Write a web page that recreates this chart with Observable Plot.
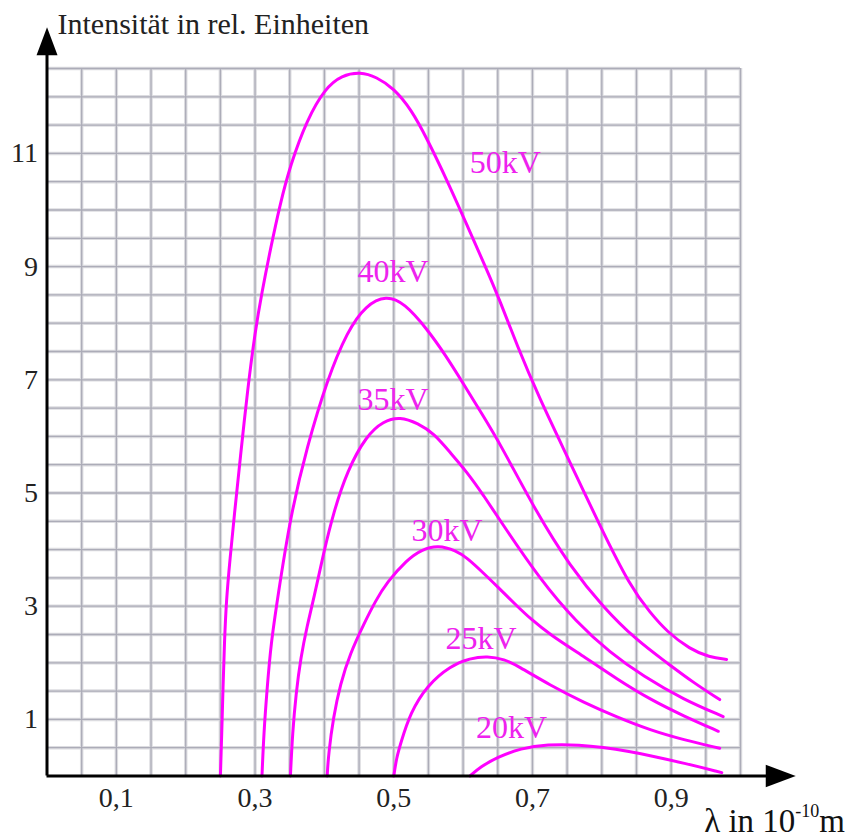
<!DOCTYPE html>
<html><head><meta charset="utf-8">
<script src="https://cdn.jsdelivr.net/npm/d3@7"></script>
<script src="https://cdn.jsdelivr.net/npm/@observablehq/plot@0.6"></script>
<style>body{margin:0;background:#fff;} svg{display:block}</style>
</head><body><div id="chart"></div>
<script>
// ---- data ----
const series = ["50kV", "40kV", "35kV", "30kV", "25kV", "20kV"];

const lambda50 = [0.250, 0.252, 0.2538, 0.2558, 0.2585, 0.264, 0.270, 0.279, 0.289, 0.300, 0.310, 0.322, 0.336, 0.351, 0.375, 0.401, 0.425, 0.452, 0.475, 0.500, 0.525, 0.548, 0.577, 0.605, 0.634, 0.653, 0.678, 0.709, 0.750, 0.798, 0.841, 0.870, 0.894, 0.927, 0.955, 0.980];
const int50    = [0, 0.75, 1.57, 2.34, 3.1, 3.85, 4.6, 5.65, 6.8, 7.85, 8.55, 9.3, 10.1, 10.8, 11.6, 12.15, 12.38, 12.44, 12.35, 12.15, 11.78, 11.26, 10.52, 9.75, 8.95, 8.4, 7.6, 6.7, 5.65, 4.4, 3.35, 2.88, 2.55, 2.24, 2.1, 2.06];

const lambda40 = [0.310, 0.3126, 0.3175, 0.323, 0.332, 0.351, 0.375, 0.404, 0.433, 0.460, 0.489, 0.515, 0.548, 0.575, 0.601, 0.627, 0.653, 0.706, 0.754, 0.802, 0.850, 0.894, 0.932, 0.970];
const int40    = [0, 0.75, 1.57, 2.34, 3.1, 4.6, 5.82, 7.0, 7.86, 8.32, 8.49, 8.36, 7.9, 7.43, 6.92, 6.4, 5.88, 4.65, 3.71, 2.98, 2.4, 2.0, 1.65, 1.35];

const lambda35 = [0.351, 0.354, 0.359, 0.366, 0.375, 0.385, 0.399, 0.413, 0.433, 0.461, 0.485, 0.509, 0.535, 0.558, 0.581, 0.605, 0.630, 0.653, 0.711, 0.764, 0.812, 0.860, 0.918, 0.975];
const int35    = [0, 0.75, 1.45, 2.1, 2.65, 3.15, 3.95, 4.65, 5.4, 6.02, 6.27, 6.35, 6.23, 6.05, 5.72, 5.38, 4.95, 4.52, 3.47, 2.71, 2.18, 1.76, 1.35, 1.05];

const lambda30 = [0.404, 0.406, 0.413, 0.423, 0.437, 0.457, 0.474, 0.490, 0.519, 0.540, 0.564, 0.590, 0.605, 0.629, 0.649, 0.678, 0.697, 0.725, 0.773, 0.822, 0.870, 0.918, 0.968];
const int30    = [0, 0.4, 1.04, 1.63, 2.16, 2.69, 3.1, 3.42, 3.82, 4.0, 4.08, 3.98, 3.86, 3.59, 3.35, 3.0, 2.78, 2.5, 2.12, 1.71, 1.35, 1.06, 0.79];

const lambda25 = [0.500, 0.504, 0.510, 0.524, 0.548, 0.582, 0.610, 0.635, 0.660, 0.678, 0.726, 0.774, 0.822, 0.870, 0.918, 0.970];
const int25    = [0, 0.32, 0.58, 1.12, 1.6, 1.95, 2.08, 2.12, 2.06, 1.95, 1.6, 1.3, 1.04, 0.81, 0.64, 0.49];

const lambda20 = [0.610, 0.625, 0.649, 0.683, 0.721, 0.770, 0.800, 0.841, 0.870, 0.918, 0.973];
const int20    = [0, 0.16, 0.33, 0.49, 0.56, 0.55, 0.51, 0.43, 0.36, 0.23, 0.06];

const labelLambda    = [0.661, 0.499, 0.499, 0.577, 0.626, 0.670];
const labelIntensity = [10.84, 8.91, 6.65, 4.33, 2.42, 0.85];

const xTickValues = [0.1, 0.3, 0.5, 0.7, 0.9];
const yTickValues = [1, 3, 5, 7, 9, 11];
const yTitle = "Intensität in rel. Einheiten";
const xTitleMain = "λ in 10";
const xTitleSup = "-10";
const xTitleUnit = "m";

// ---- build tables ----
const curves = [[lambda50, int50], [lambda40, int40], [lambda35, int35], [lambda30, int30], [lambda25, int25], [lambda20, int20]];
const rows = series.flatMap((s, i) => curves[i][0].map((l, j) => ({series: s, lambda: l, intensity: curves[i][1][j]})));
const labels = series.map((s, i) => ({series: s, lambda: labelLambda[i], intensity: labelIntensity[i]}));
const gridX = d3.range(1, 21).map(i => i * 0.05);
const gridY = d3.range(1, 26).map(i => i * 0.5);

const FONT = "Liberation Serif, Times New Roman, serif";

const arrowUp = {draw(ctx, size) { const r = Math.sqrt(size / Math.PI); const w = 0.75 * r, L = r;
  ctx.moveTo(0, -L); ctx.lineTo(w, L); ctx.lineTo(-w, L); ctx.closePath(); }};
const arrowRight = {draw(ctx, size) { const r = Math.sqrt(size / Math.PI); const w = 0.75 * r, L = r;
  ctx.moveTo(L, 0); ctx.lineTo(-L, w); ctx.lineTo(-L, -w); ctx.closePath(); }};

function xTitleMark(index, scales, values, dimensions) {
  const t = d3.create("svg:text")
    .attr("x", dimensions.width - 2).attr("y", dimensions.height - 7)
    .attr("text-anchor", "end").attr("font-size", 33).attr("font-family", FONT).attr("fill", "#111");
  t.append("tspan").text(xTitleMain);
  t.append("tspan").attr("font-size", 18).attr("dy", -15).text(xTitleSup);
  t.append("tspan").attr("dy", 15).text(xTitleUnit);
  return t.node();
}

const chart = Plot.plot({
  width: 847, height: 839,
  marginLeft: 46.5, marginRight: 107, marginTop: 68, marginBottom: 63.5,
  x: {domain: [0, 1], axis: null},
  y: {domain: [0, 12.5], axis: null},
  style: {fontFamily: FONT, background: "#fff"},
  marks: [
    Plot.ruleX(gridX, {y1: 0, y2: 12.5, stroke: "#dcdce0", strokeWidth: 3.5}),
    Plot.ruleY(gridY, {x1: 0, x2: 1, stroke: "#dcdce0", strokeWidth: 3.5}),
    Plot.ruleX(gridX, {y1: 0, y2: 12.5, stroke: "#acacb8", strokeWidth: 1.3}),
    Plot.ruleY(gridY, {x1: 0, x2: 1, stroke: "#acacb8", strokeWidth: 1.3}),
    Plot.line(rows, {x: "lambda", y: "intensity", z: "series", stroke: "#ff00ff", strokeWidth: 3, curve: "basis"}),
    Plot.text(labels, {x: "lambda", y: "intensity", text: "series", fill: "#ee22ee", fontSize: 32}),
    Plot.ruleX([0], {y1: 0, y2: 12.95, stroke: "#000", strokeWidth: 3}),
    Plot.ruleY([0], {x1: 0, x2: 1.06, stroke: "#000", strokeWidth: 3}),
    Plot.dot([0], {x: () => 0, y: () => 12.98, symbol: arrowUp, r: 14, fill: "#000", stroke: null}),
    Plot.dot([0], {x: () => 1.058, y: () => 0, symbol: arrowRight, r: 15, fill: "#000", stroke: null}),
    Plot.text(yTickValues, {x: () => 0, y: d => d, text: d => String(d), textAnchor: "end", dx: -9, fontSize: 28, fill: "#222"}),
    Plot.text(xTickValues, {x: d => d, y: () => 0, text: d => String(d).replace(".", ","), dy: 22, fontSize: 28, fill: "#222"}),
    Plot.text([yTitle], {x: () => 0, y: () => 13.28, text: d => d, textAnchor: "start", dx: 10.5, fontSize: 30, fill: "#222"}),
    xTitleMark
  ]
});
document.getElementById("chart").appendChild(chart);
</script>
</body></html>
